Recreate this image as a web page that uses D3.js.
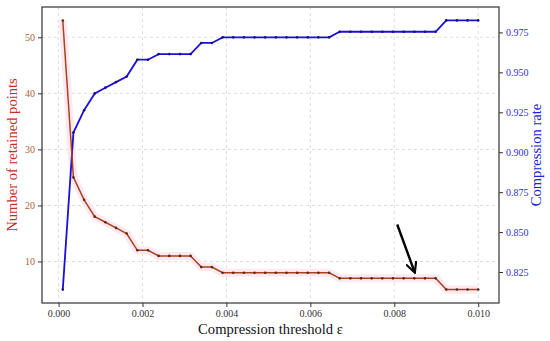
<!DOCTYPE html>
<html><head><meta charset="utf-8">
<script src="https://cdn.jsdelivr.net/npm/d3@7"></script>
<style>body{margin:0;background:#fff}svg{display:block}</style>
</head><body>
<svg id="c" width="550" height="341"></svg>
<script>
const thresholds = [0.0001,0.000354,0.000608,0.000862,0.001115,0.001369,0.001623,0.001877,0.002131,0.002385,
0.002638,0.002892,0.003146,0.003400,0.003654,0.003908,0.004162,0.004415,0.004669,0.004923,
0.005177,0.005431,0.005685,0.005938,0.006192,0.006446,0.006700,0.006954,0.007208,0.007462,
0.007715,0.007969,0.008223,0.008477,0.008731,0.008985,0.009238,0.009492,0.009746,0.0100];
const retained = [53,25,21,18,17,16,15,12,12,11,11,11,11,9,9,8,8,8,8,8,8,8,8,8,8,8,7,7,7,7,7,7,7,7,7,7,5,5,5,5];
const rate = [0.8140,0.9123,0.9263,0.9368,0.9404,0.9439,0.9474,0.9579,0.9579,0.9614,0.9614,0.9614,0.9614,0.9684,0.9684,
0.9719,0.9719,0.9719,0.9719,0.9719,0.9719,0.9719,0.9719,0.9719,0.9719,0.9719,
0.9754,0.9754,0.9754,0.9754,0.9754,0.9754,0.9754,0.9754,0.9754,0.9754,0.9825,0.9825,0.9825,0.9825];
const xTicks = [0,0.002,0.004,0.006,0.008,0.010];
const leftTicks = [10,20,30,40,50];
const rightTicks = [0.825,0.850,0.875,0.900,0.925,0.950,0.975];
const arrowPts = [[0.00807,16.6],[0.00847,8.4]]; // arrow tail/head in data coords (x, left axis)

const svg = d3.select('#c');
const m = {l:42, r:499, t:7, b:303};
const x = d3.scaleLinear().domain([-0.000395,0.010495]).range([m.l,m.r]);
const yL = d3.scaleLinear().domain([2.6,55.4]).range([m.b,m.t]);
const yR = d3.scaleLinear().domain([0.8056,0.9909]).range([m.b,m.t]);
const serif = "'Liberation Serif','Times New Roman',serif";

// grid
const g = svg.append('g');
g.selectAll('.vg').data(xTicks).enter().append('line')
 .attr('x1',d=>x(d)).attr('x2',d=>x(d)).attr('y1',m.t).attr('y2',m.b)
 .attr('stroke','#d4d4d4').attr('stroke-width',0.8).attr('stroke-dasharray','3,3');
g.selectAll('.hg').data(leftTicks).enter().append('line')
 .attr('y1',d=>yL(d)).attr('y2',d=>yL(d)).attr('x1',m.l).attr('x2',m.r)
 .attr('stroke','#d4d4d4').attr('stroke-width',0.8).attr('stroke-dasharray','3,3');

// red halo
const lineL = d3.line().x((d,i)=>x(thresholds[i])).y(d=>yL(d));
svg.append('path').datum(retained).attr('d',lineL).attr('fill','none')
 .attr('stroke','#fde8f2').attr('stroke-width',8).attr('stroke-linejoin','round');

// blue line
const lineR = d3.line().x((d,i)=>x(thresholds[i])).y(d=>yR(d));
svg.append('path').datum(rate).attr('d',lineR).attr('fill','none')
 .attr('stroke','#1a10d8').attr('stroke-width',1.8);
svg.selectAll('.bd').data(rate).enter().append('circle')
 .attr('cx',(d,i)=>x(thresholds[i])).attr('cy',d=>yR(d)).attr('r',1.3).attr('fill','#1a1080');

// red line
svg.append('path').datum(retained).attr('d',lineL).attr('fill','none')
 .attr('stroke','#a5441c').attr('stroke-width',1.5);
svg.selectAll('.rd').data(retained).enter().append('circle')
 .attr('cx',(d,i)=>x(thresholds[i])).attr('cy',d=>yL(d)).attr('r',1.3).attr('fill','#5a2a10');

// axes
const ax = svg.append('g').attr('transform',`translate(0,${m.b})`)
 .call(d3.axisBottom(x).tickValues(xTicks).tickFormat(d3.format('.3f')).tickSizeOuter(0).tickSize(4));
ax.selectAll('text').attr('font-family',serif).attr('font-size',10).attr('fill','#333');
const al = svg.append('g').attr('transform',`translate(${m.l},0)`)
 .call(d3.axisLeft(yL).tickValues(leftTicks).tickFormat(d3.format('d')).tickSizeOuter(0).tickSize(4));
al.selectAll('text').attr('font-family',serif).attr('font-size',10).attr('fill','#b0603a');
const ar = svg.append('g').attr('transform',`translate(${m.r},0)`)
 .call(d3.axisRight(yR).tickValues(rightTicks).tickFormat(d3.format('.3f')).tickSizeOuter(0).tickSize(4));
ar.selectAll('text').attr('font-family',serif).attr('font-size',10).attr('fill','#3030e0');
svg.selectAll('.domain').remove();
svg.selectAll('.tick line').attr('stroke','#333');

// frame
svg.append('rect').attr('x',m.l).attr('y',m.t).attr('width',m.r-m.l).attr('height',m.b-m.t)
 .attr('fill','none').attr('stroke','#333').attr('stroke-width',1.2);

// labels
svg.append('text').attr('x',(m.l+m.r)/2).attr('y',334).attr('text-anchor','middle')
 .attr('font-family',serif).attr('font-size',14.6).attr('fill','#111').text('Compression threshold ε');
svg.append('text').attr('transform',`translate(17,${(m.t+m.b)/2}) rotate(-90)`).attr('text-anchor','middle')
 .attr('font-family',serif).attr('font-size',14.6).attr('fill','#c0302a').text('Number of retained points');
svg.append('text').attr('transform',`translate(541,${(m.t+m.b)/2}) rotate(-90)`).attr('text-anchor','middle')
 .attr('font-family',serif).attr('font-size',14.6).attr('fill','#2020d8').text('Compression rate');

// arrow
svg.append('defs').append('marker').attr('id','ah').attr('viewBox','0 0 10 10').attr('refX',7).attr('refY',5)
 .attr('markerWidth',5).attr('markerHeight',5).attr('orient','auto').attr('markerUnits','strokeWidth')
 .append('path').attr('d','M0,0.5 L9,5 L0,9.5').attr('fill','none').attr('stroke','#000').attr('stroke-width',1.8);
svg.append('line').attr('x1',x(arrowPts[0][0])).attr('y1',yL(arrowPts[0][1]))
 .attr('x2',x(arrowPts[1][0])).attr('y2',yL(arrowPts[1][1]))
 .attr('stroke','#000').attr('stroke-width',2.4).attr('marker-end','url(#ah)');
</script>
</body></html>
